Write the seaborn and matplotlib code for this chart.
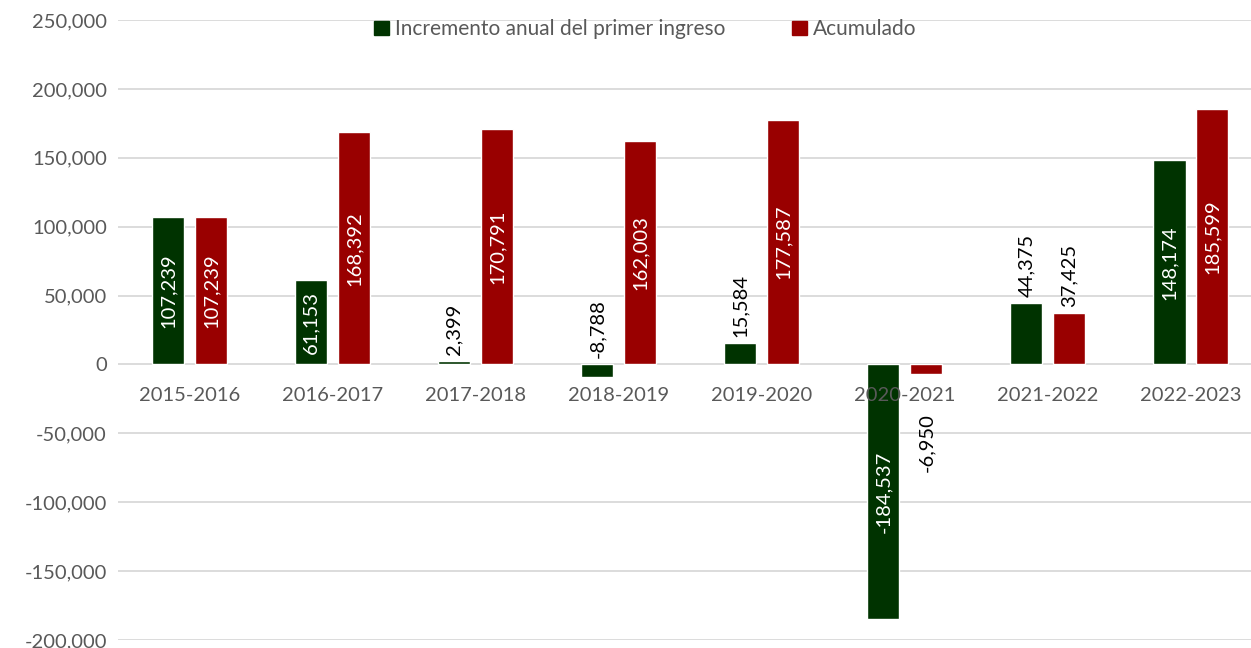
import pandas as pd
import matplotlib.pyplot as plt
import seaborn as sns

# data
periods = ['2015-2016', '2016-2017', '2017-2018', '2018-2019',
           '2019-2020', '2020-2021', '2021-2022', '2022-2023']
incremento = [107239, 61153, 2399, -8788, 15584, -184537, 44375, 148174]
acumulado = [107239, 168392, 170791, 162003, 177587, -6950, 37425, 185599]
series_names = ['Incremento anual del primer ingreso', 'Acumulado']
yticks = list(range(-200000, 250001, 50000))

colors = ['#003300', '#990000']
grey = '#595959'

sns.set_theme(style='white')
plt.rcParams['font.family'] = ['Lato', 'DejaVu Sans']

df = pd.DataFrame({
    'periodo': periods * 2,
    'valor': incremento + acumulado,
    'serie': [series_names[0]] * len(periods) + [series_names[1]] * len(periods),
})

fig = plt.figure(figsize=(12.51, 6.48), dpi=100)
ax = fig.add_axes([118 / 1251, 8 / 648, 1 - 118 / 1251, 620 / 648])

sns.barplot(data=df, x='periodo', y='valor', hue='serie', hue_order=series_names,
            palette=colors, width=0.6, gap=0.25, saturation=1, ax=ax,
            legend=False, zorder=2)

ax.set_ylim(-200000, 250000)
ax.set_xlim(-0.5, 7.42)
ax.set_yticks(yticks)
ax.set_yticklabels([f'{t:,}' for t in yticks])
for t in yticks:
    ax.axhline(t, color='#d9d9d9', lw=1.3, zorder=0)
ax.grid(False)
for s in ax.spines.values():
    s.set_visible(False)

ax.set_xlabel('')
ax.set_ylabel('')
ax.tick_params(axis='y', length=0, labelsize=14.5, labelcolor=grey, pad=8)
ax.tick_params(axis='x', length=0, labelsize=14.5, labelcolor=grey, pad=16)
# category labels just under the zero line, drawn over the bars
ax.spines['bottom'].set_position(('data', 0))
ax.xaxis.set_zorder(6)

# value labels
raise_up = {(0, 3)}  # the -8,788 label sits above the zero line
for hi, vals in enumerate([incremento, acumulado]):
    offset = -0.15 if hi == 0 else 0.15
    for i, v in enumerate(vals):
        x = i + offset
        txt = f'{v:,}'
        if abs(v) > 55000:
            ax.text(x, v / 2, txt, rotation=90, ha='center', va='center',
                    color='white', fontsize=14.5, zorder=5)
        elif v >= 0 or (hi, i) in raise_up:
            ax.text(x, max(v, 0) + 4500, txt, rotation=90, ha='center',
                    va='bottom', color='black', fontsize=14.5, zorder=5)
        else:
            ax.text(x, -35500, txt, rotation=90, ha='center', va='top',
                    color='black', fontsize=14.5, zorder=5)

handles = [plt.Rectangle((0, 0), 1, 1, color=c) for c in colors]
leg = fig.legend(handles, series_names, loc='center', bbox_to_anchor=(0.516, 0.955),
                 ncol=2, frameon=False, fontsize=15, handlelength=0.7,
                 handleheight=0.7, handletextpad=0.3, columnspacing=3.2)
for t in leg.get_texts():
    t.set_color(grey)

plt.savefig('out.png', dpi=100)
